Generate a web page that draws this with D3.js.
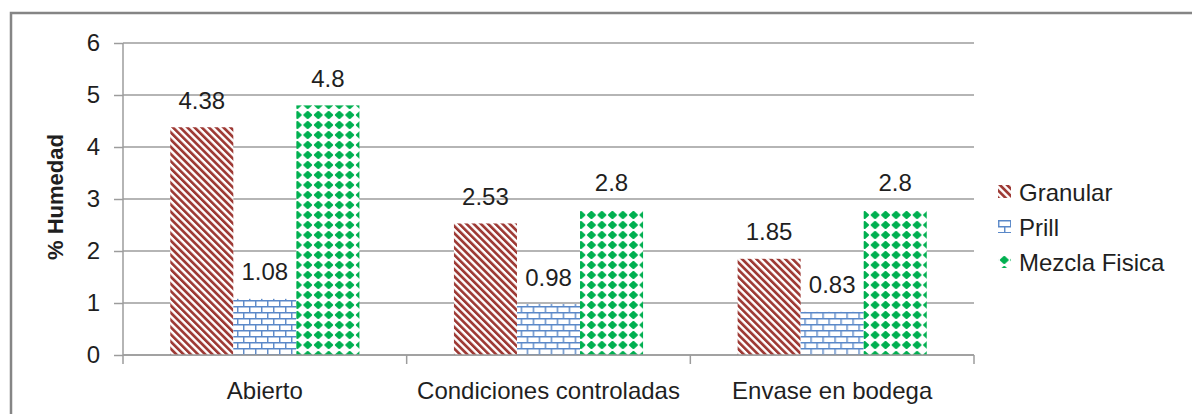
<!DOCTYPE html>
<html>
<head>
<meta charset="utf-8">
<script src="https://cdn.jsdelivr.net/npm/d3@7/dist/d3.min.js"></script>
<style>
  html, body { margin: 0; padding: 0; background: #fff; }
  svg { display: block; }
  text { font-family: "Liberation Sans", Arial, sans-serif; fill: #1f1f1f; }
</style>
</head>
<body>
<svg id="chart" width="1192" height="414"></svg>
<script>
// Moisture content (%) by storage condition and fertilizer type
const categories = ["Abierto", "Condiciones controladas", "Envase en bodega"];
const series = ["Granular", "Prill", "Mezcla Fisica"];
const granular = [4.38, 2.53, 1.85];
const prill = [1.08, 0.98, 0.83];
const mezclaFisica = [4.8, 2.8, 2.8];
const yTicks = [0, 1, 2, 3, 4, 5, 6];
const yTitle = "% Humedad";

const values = { "Granular": granular, "Prill": prill, "Mezcla Fisica": mezclaFisica };
const fills = { "Granular": "url(#pat-granular)", "Prill": "url(#pat-prill)", "Mezcla Fisica": "url(#pat-mezcla)" };

const svg = d3.select("#chart");
const plot = { left: 123, right: 974, top: 43, bottom: 355 };
const gridColor = "#9c9c9c";

// ---- fill patterns ----
const defs = svg.append("defs");

// wide downward diagonal stripes
const pg = defs.append("pattern")
  .attr("id", "pat-granular").attr("patternUnits", "userSpaceOnUse")
  .attr("width", 5.1).attr("height", 5.1).attr("patternTransform", "rotate(-45)");
pg.append("rect").attr("width", 5.1).attr("height", 5.1).attr("fill", "#fff");
pg.append("rect").attr("width", 2.7).attr("height", 5.1).attr("fill", "#9e3a35");

// horizontal brick
const pb = defs.append("pattern")
  .attr("id", "pat-prill").attr("patternUnits", "userSpaceOnUse")
  .attr("width", 12).attr("height", 12);
pb.append("rect").attr("width", 12).attr("height", 12).attr("fill", "#fff");
pb.append("path")
  .attr("d", "M0,0.75H12 M0,6.75H12 M0.75,0V6.75 M6.75,6.75V12")
  .attr("stroke", "#5a88c8").attr("stroke-width", 1.4).attr("fill", "none");

// solid diamonds with blunted tips
const pd = defs.append("pattern")
  .attr("id", "pat-mezcla").attr("patternUnits", "userSpaceOnUse")
  .attr("width", 10.5).attr("height", 10).attr("x", 1);
pd.append("rect").attr("width", 10.5).attr("height", 10).attr("fill", "#fff");
pd.append("path")
  .attr("d", "M4.7,1 H5.8 L9.6,4.5 V5.5 L5.8,9 H4.7 L0.9,5.5 V4.5 Z")
  .attr("fill", "#00b050");

// ---- scales ----
const x0 = d3.scaleBand().domain(categories).range([plot.left, plot.right]).paddingInner(0).paddingOuter(0);
const x1 = d3.scaleBand().domain(series).range([0, x0.bandwidth()]).paddingInner(0).paddingOuter(0.75);
const y = d3.scaleLinear().domain([0, 6]).range([plot.bottom, plot.top]);

// ---- outer frame ----
svg.append("path")
  .attr("d", "M11,414 V13 H1192")
  .attr("fill", "none").attr("stroke", "#858585").attr("stroke-width", 2.5);

// ---- gridlines and y axis ----
const yAxis = d3.axisLeft(y).tickValues(yTicks).tickSize(9).tickPadding(14).tickFormat(d3.format("d"));
const gy = svg.append("g").attr("transform", `translate(${plot.left},0)`).call(yAxis);
gy.select(".domain").remove();
gy.selectAll(".tick line").attr("stroke", gridColor).attr("stroke-width", 1.5);
gy.selectAll(".tick text").attr("font-size", 24).attr("fill", "#1f1f1f")
  .attr("font-family", "Liberation Sans, Arial, sans-serif");

svg.append("g").selectAll("line").data(yTicks).join("line")
  .attr("x1", plot.left).attr("x2", plot.right)
  .attr("y1", d => y(d)).attr("y2", d => y(d))
  .attr("stroke", gridColor).attr("stroke-width", 1.5);

svg.append("line")
  .attr("x1", plot.left).attr("x2", plot.left)
  .attr("y1", plot.top).attr("y2", plot.bottom + 9)
  .attr("stroke", gridColor).attr("stroke-width", 1.5);

// ---- bars ----
const groups = svg.append("g").selectAll("g").data(categories).join("g")
  .attr("transform", d => `translate(${x0(d)},0)`);

groups.selectAll("rect")
  .data((c, i) => series.map(s => ({ s, v: values[s][i] })))
  .join("rect")
  .attr("x", d => x1(d.s))
  .attr("width", x1.bandwidth())
  .attr("y", d => y(d.v))
  .attr("height", d => y(0) - y(d.v))
  .attr("fill", d => fills[d.s]);

// value labels
groups.selectAll("text.val")
  .data((c, i) => series.map(s => ({ s, v: values[s][i] })))
  .join("text").attr("class", "val")
  .attr("x", d => x1(d.s) + x1.bandwidth() / 2)
  .attr("y", d => y(d.v) - 18.5)
  .attr("text-anchor", "middle")
  .attr("font-size", 24)
  .text(d => d.v);

// ---- x axis ----
const xAxis = d3.axisBottom(x0).tickSize(0).tickPadding(27);
const gx = svg.append("g").attr("transform", `translate(0,${plot.bottom})`).call(xAxis);
gx.select(".domain").remove();
gx.selectAll(".tick text").attr("font-size", 24).attr("fill", "#1f1f1f")
  .attr("font-family", "Liberation Sans, Arial, sans-serif");

svg.append("line")
  .attr("x1", plot.left).attr("x2", plot.right)
  .attr("y1", plot.bottom).attr("y2", plot.bottom)
  .attr("stroke", gridColor).attr("stroke-width", 1.5);

// category boundary tick marks
svg.append("g").selectAll("line").data(categories).join("line")
  .attr("x1", d => x0(d) + x0.bandwidth()).attr("x2", d => x0(d) + x0.bandwidth())
  .attr("y1", plot.bottom).attr("y2", plot.bottom + 9)
  .attr("stroke", gridColor).attr("stroke-width", 1.5);

// ---- y axis title ----
svg.append("text")
  .attr("transform", "translate(63,197) rotate(-90)")
  .attr("text-anchor", "middle")
  .attr("font-size", 22).attr("font-weight", "bold")
  .text(yTitle);

// ---- legend ----
const legend = svg.append("g").selectAll("g").data(series).join("g")
  .attr("transform", (d, i) => `translate(998,${185 + i * 35})`);
legend.append("rect").attr("width", 13).attr("height", 13).attr("fill", d => fills[d]);
legend.append("text").attr("x", 21).attr("y", 15.5).attr("font-size", 24).text(d => d);
</script>
</body>
</html>
